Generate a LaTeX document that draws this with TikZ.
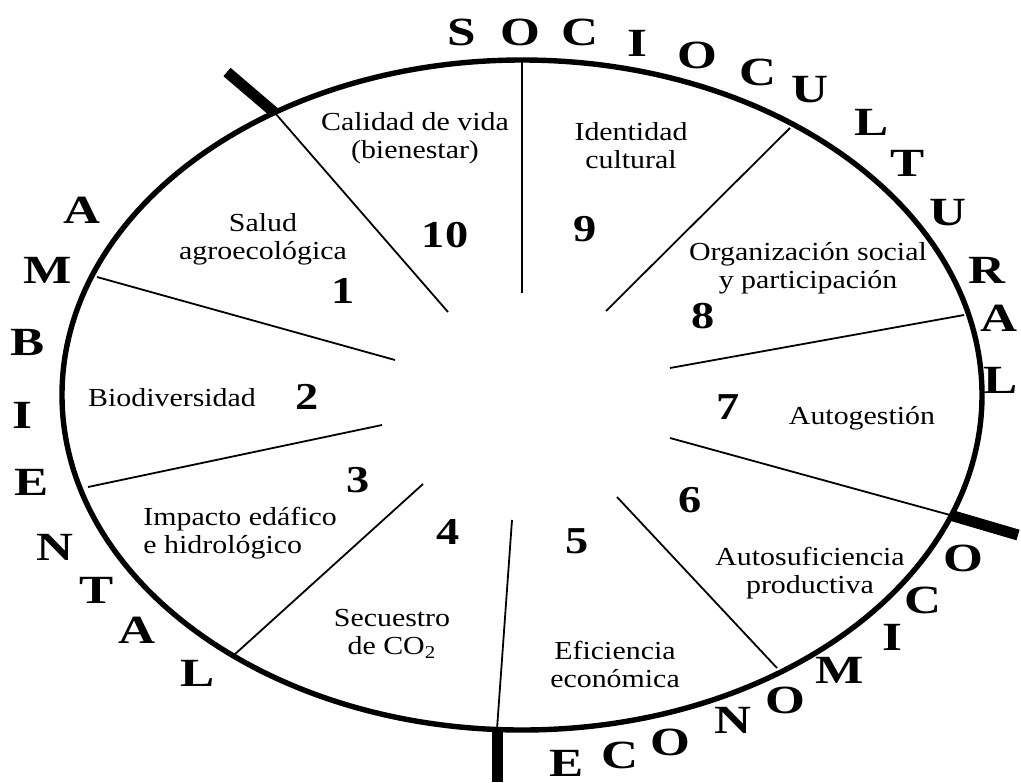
\documentclass[tikz,border=0pt]{standalone}
\usepackage{fontspec}
\setmainfont{Liberation Serif}
\begin{document}
\begin{tikzpicture}[x=0.5pt,y=-0.5pt,
    letra/.style={font=\fontsize{20}{20}\selectfont\bfseries,xscale=1.28},
    num/.style={font=\fontsize{19}{19}\selectfont\bfseries,xscale=1.22},
    etiq/.style={font=\fontsize{13}{14}\selectfont,align=center,xscale=1.15,inner sep=0pt},
    radio/.style={line width=0.9pt},
    corte/.style={line width=5.5pt}]
\useasboundingbox (0,0) rectangle (1021,782);

% radios: borde de la elipse / extremo interior
\foreach \k/\ex/\ey/\ix/\iy in {10/275/113/448/312,1/97/277/395/360,2/88/487/382/425,3/234/655/423/484,
    4/497/729/512/520,5/777/668/617/497,6/950/515/670/438,7/964/315/670/368,8/790/128/606/311,9/522/60/522/293}
{
    \coordinate (e\k) at (\ex,\ey);
    \coordinate (i\k) at (\ix,\iy);
    \draw[radio] (e\k) -- (i\k);
}
\draw[line width=2.7pt] (522,395) ellipse [x radius=230pt, y radius=167.5pt];

% cortes entre dimensiones
\coordinate (c1) at (227,72);
\coordinate (c2) at (497,782);
\coordinate (c3) at (1018,535);
\draw[corte] (c1) -- (e10);
\draw[corte] (c2) -- (e4);
\draw[corte] (c3) -- (e6);

% indicadores
\node[etiq] (calidad) at (415,138) {Calidad de vida\\(bienestar)};
\node[etiq] (salud) at (263,239) {Salud\\agroecológica};
\node[etiq] (biodiv) at (172,398) {Biodiversidad};
\node[etiq,align=left,anchor=west] (impacto) at (143,533) {Impacto edáfico\\e hidrológico};
\node[etiq] (secuestro) at (392,634) {Secuestro\\de CO\textsubscript{2}};
\node[etiq] (eficiencia) at (615,664) {Eficiencia\\económica};
\node[etiq] (autosuf) at (810,573) {Autosuficiencia\\productiva};
\node[etiq] (autogest) at (862,418) {Autogestión};
\node[etiq] (organiz) at (808,268) {Organización social\\y participación};
\node[etiq] (identidad) at (631,146) {Identidad\\cultural};

\foreach \n/\x/\y in {10/445/235,1/343/291,2/307/397,3/358/480,4/448/532,5/577/541,6/690/500,7/728/407,8/703/316,9/585/229}
    \node[num] (n\n) at (\x,\y) {\n};

% dimensiones
\foreach \l/\x/\y [count=\i] in {S/462/32,O/520/32,C/580/32,I/637/43,O/697/55,C/758/72,U/810/90,
    L/872/122,T/908/163,U/948/213,R/987/270,A/999/318,L/1001/380}
    \node[letra] (soc\i) at (\x,\y) {\l};
\foreach \l/\x/\y [count=\i] in {A/82/210,M/48/270,B/28/342,I/22/415,E/32/482,N/55/547,T/97/590,A/137/630,L/198/673}
    \node[letra] (amb\i) at (\x,\y) {\l};
\foreach \l/\x/\y [count=\i] in {E/567/763,C/620/755,O/670/742,N/733/720,O/785/700,M/840/670,I/892/637,C/923/600,O/963/558}
    \node[letra] (eco\i) at (\x,\y) {\l};
\end{tikzpicture}
\end{document}
